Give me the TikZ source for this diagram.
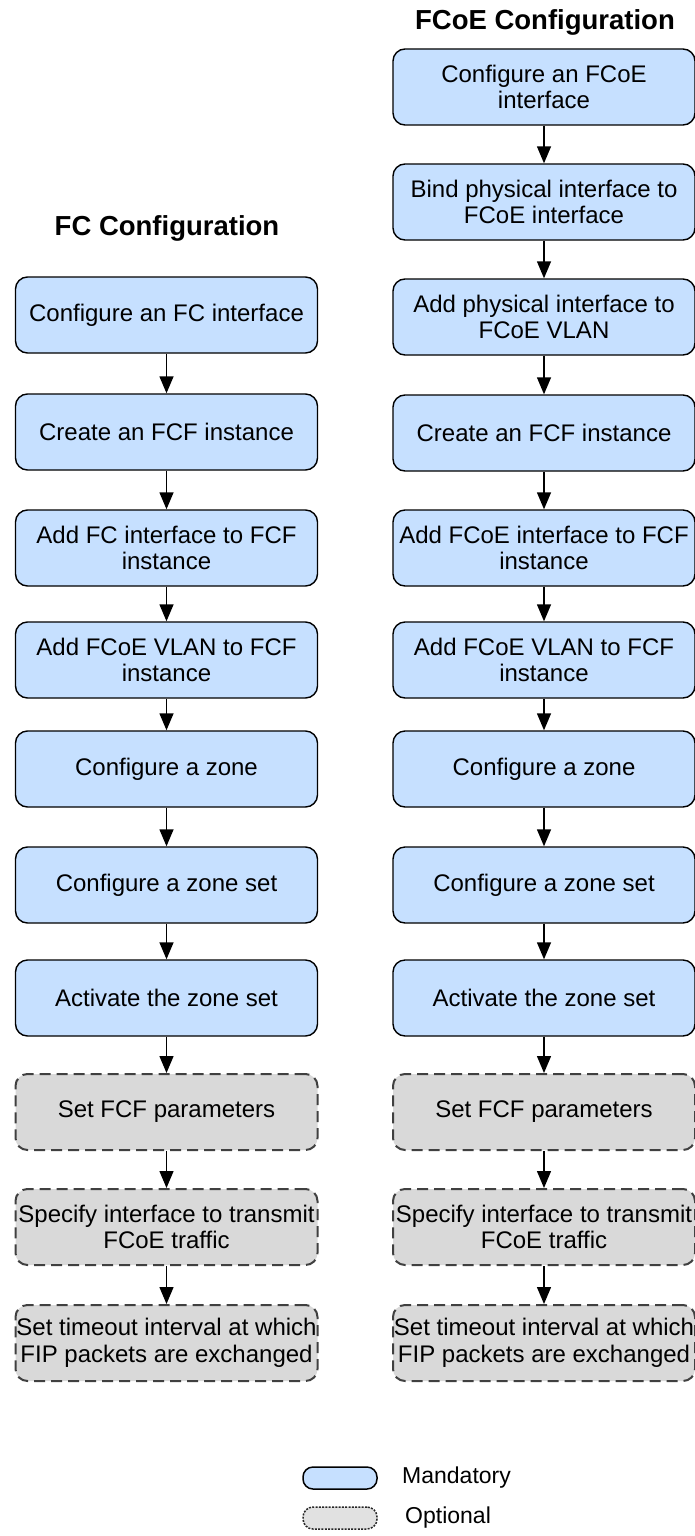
\documentclass[tikz,border=0pt]{standalone}
\usepackage{fontspec}
\setmainfont{Liberation Sans}
\usetikzlibrary{arrows.meta}
\definecolor{mand}{RGB}{198,224,255}
\definecolor{opt}{RGB}{217,217,217}
\begin{document}
\begin{tikzpicture}[x=1pt,y=-1pt,
 box/.style={rectangle, rounded corners=12pt, minimum width=302pt, minimum height=76pt, align=center, font=\fontsize{24}{26.5}\selectfont, inner sep=0pt, line width=1.4pt},
 mandbox/.style={box, draw=black, fill=mand},
 optbox/.style={box, draw=black!75, fill=opt, dash pattern=on 11pt off 6pt, line width=2pt},
 flow/.style={line width=1.4pt, -{Triangle[length=17pt,width=14pt]}},
 title/.style={font=\fontsize{27.5}{30}\selectfont\bfseries},
 legmand/.style={rectangle, rounded corners=10pt, minimum width=74pt, minimum height=22pt, inner sep=0pt, draw=black, fill=mand, line width=1.5pt},
 legopt/.style={rectangle, rounded corners=10pt, minimum width=74pt, minimum height=22pt, inner sep=0pt, draw=black!85, fill=opt!80!white, line width=1.5pt, dash pattern=on 2pt off 1.3pt},
 legtext/.style={font=\fontsize{23}{25}\selectfont, anchor=west, inner sep=0pt}
]
\useasboundingbox (0,0) rectangle (695,1536);

% titles
\node[title] (tfc) at (167,228) {FC Configuration};
\node[title] (tfcoe) at (545,22) {FCoE Configuration};

% left column
\node[mandbox] (l1) at (166.5,315) {Configure an FC interface};
\node[mandbox] (l2) at (166.5,432) {Create an FCF instance};
\node[mandbox] (l3) at (166.5,548) {Add FC interface to FCF\\instance};
\node[mandbox] (l4) at (166.5,660) {Add FCoE VLAN to FCF\\instance};
\node[mandbox] (l5) at (166.5,769) {Configure a zone};
\node[mandbox] (l6) at (166.5,885) {Configure a zone set};
\node[mandbox] (l7) at (166.5,998) {Activate the zone set};
\node[optbox] (l8) at (166.5,1112) {Set FCF parameters};
\node[optbox] (l9) at (166.5,1227) {Specify interface to transmit\\FCoE traffic};
\node[optbox] (l10) at (166.5,1343) {Set timeout interval at which\\FIP packets are exchanged};

% right column
\node[mandbox] (r1) at (544,87) {Configure an FCoE\\interface};
\node[mandbox] (r2) at (544,202) {Bind physical interface to\\FCoE interface};
\node[mandbox] (r3) at (544,317) {Add physical interface to\\FCoE VLAN};
\node[mandbox] (r4) at (544,433) {Create an FCF instance};
\node[mandbox] (r5) at (544,548) {Add FCoE interface to FCF\\instance};
\node[mandbox] (r6) at (544,660) {Add FCoE VLAN to FCF\\instance};
\node[mandbox] (r7) at (544,769) {Configure a zone};
\node[mandbox] (r8) at (544,885) {Configure a zone set};
\node[mandbox] (r9) at (544,998) {Activate the zone set};
\node[optbox] (r10) at (544,1112) {Set FCF parameters};
\node[optbox] (r11) at (544,1227) {Specify interface to transmit\\FCoE traffic};
\node[optbox] (r12) at (544,1343) {Set timeout interval at which\\FIP packets are exchanged};

% connectors
\foreach \a/\b in {l1/l2,l2/l3,l3/l4,l4/l5,l5/l6,l6/l7,l7/l8,l8/l9,l9/l10,
                   r1/r2,r2/r3,r3/r4,r4/r5,r5/r6,r6/r7,r7/r8,r8/r9,r9/r10,r10/r11,r11/r12}
  \draw[flow] (\a.south) -- (\b.north);

% legend
\node[legmand] (lm) at (340,1478) {};
\node[legtext] (lmt) at (402,1478) {Mandatory};
\node[legopt] (lo) at (340,1518) {};
\node[legtext] (lot) at (405,1518) {Optional};
\end{tikzpicture}
\end{document}
